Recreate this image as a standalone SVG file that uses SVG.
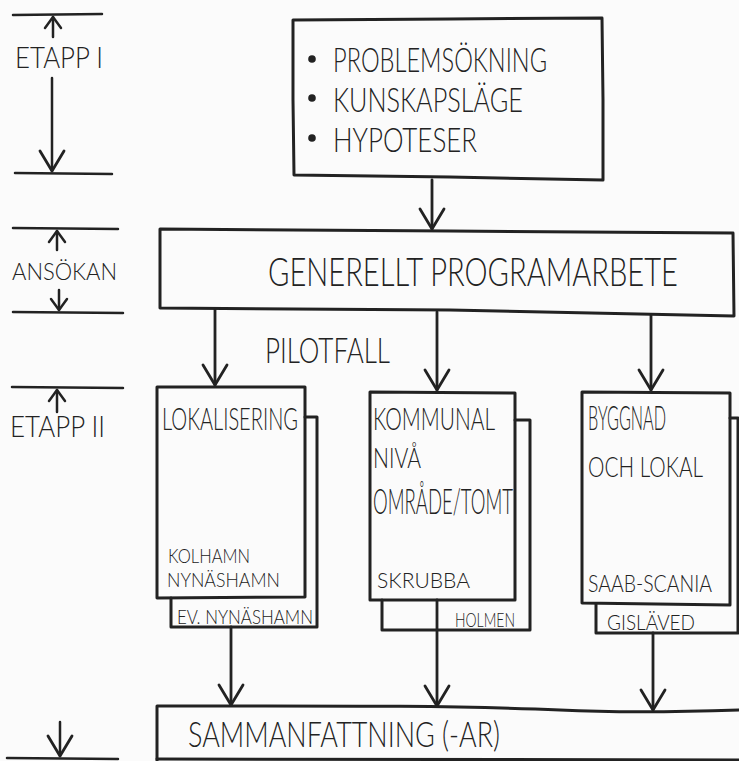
<svg xmlns="http://www.w3.org/2000/svg" width="739" height="761" viewBox="0 0 739 761">
  <style>
    .ln { fill: none; stroke: #222; stroke-width: 3; stroke-linecap: round; stroke-linejoin: round; }
    .tl { fill: none; stroke: #222; stroke-width: 2.5; stroke-linecap: round; }
    .ar { fill: none; stroke: #222; stroke-width: 2.8; stroke-linecap: round; }
    .t { font-family: Lato, "Liberation Sans", Arial, sans-serif; font-weight: 300; fill: #222; }
  </style>
  <defs>
    <marker id="vbig" markerUnits="userSpaceOnUse" markerWidth="30" markerHeight="30" refX="0" refY="0" orient="auto" overflow="visible">
      <path d="M-20,-12 L0,0 L-20,12" fill="none" stroke="#222" stroke-width="2.8" stroke-linecap="round" stroke-linejoin="round"/>
    </marker>
    <marker id="vsmall" markerUnits="userSpaceOnUse" markerWidth="20" markerHeight="20" refX="0" refY="0" orient="auto" overflow="visible">
      <path d="M-11,-8 L0,0 L-11,8" fill="none" stroke="#222" stroke-width="2.5" stroke-linecap="round" stroke-linejoin="round"/>
    </marker>
  </defs>

  <rect width="739" height="761" fill="#fbfbfb"/>

  <!-- phase scale on the left -->
  <g id="phases">
    <path class="tl" d="M13,15 L102,14"/>
    <path class="tl" d="M53,37 L53,17" marker-end="url(#vsmall)"/>
    <text class="t" x="15" y="68" font-size="29" textLength="88" lengthAdjust="spacingAndGlyphs">ETAPP I</text>
    <path class="tl" d="M52,78 L52,171" marker-end="url(#vbig)"/>
    <path class="tl" d="M15,173 L112,174"/>

    <path class="tl" d="M13,228 L118,229"/>
    <path class="tl" d="M57,250 L57,231" marker-end="url(#vsmall)"/>
    <text class="t" x="12" y="280" font-size="24" textLength="105" lengthAdjust="spacingAndGlyphs">ANSÖKAN</text>
    <path class="tl" d="M59,290 L59,310" marker-end="url(#vsmall)"/>
    <path class="tl" d="M13,312 L123,313"/>

    <path class="tl" d="M12,387 L123,388"/>
    <path class="tl" d="M57,412 L57,390" marker-end="url(#vsmall)"/>
    <text class="t" x="10" y="437" font-size="30" textLength="95" lengthAdjust="spacingAndGlyphs">ETAPP II</text>

    <path class="tl" d="M60,722 L60,756" marker-end="url(#vbig)"/>
    <path class="tl" d="M7,758 L118,759"/>
  </g>

  <!-- connectors -->
  <g id="connectors">
    <path class="ar" d="M432,180 L432,229" marker-end="url(#vbig)"/>
    <path class="ar" d="M215,309 L215,385" marker-end="url(#vbig)"/>
    <path class="ar" d="M437,312 L437,390" marker-end="url(#vbig)"/>
    <path class="ar" d="M651,315 L651,390" marker-end="url(#vbig)"/>
    <path class="ar" d="M231,627 L231,705" marker-end="url(#vbig)"/>
    <path class="ar" d="M437,600 L437,706" marker-end="url(#vbig)"/>
    <path class="ar" d="M653,633 L653,710" marker-end="url(#vbig)"/>
  </g>

  <!-- stage I: problem finding -->
  <g id="stage1">
    <path class="ln" d="M293,20 L450,19 L602,18 L603,100 L603,180 L450,177 L294,175 L293,100 Z"/>
    <circle cx="312" cy="59" r="3.8" fill="#222"/>
    <circle cx="312" cy="98" r="3.8" fill="#222"/>
    <circle cx="312" cy="138" r="3.8" fill="#222"/>
    <text class="t" x="333" y="72" font-size="34" textLength="214" lengthAdjust="spacingAndGlyphs">PROBLEMSÖKNING</text>
    <text class="t" x="333" y="112" font-size="34" textLength="190" lengthAdjust="spacingAndGlyphs">KUNSKAPSLÄGE</text>
    <text class="t" x="333" y="152" font-size="34" textLength="144" lengthAdjust="spacingAndGlyphs">HYPOTESER</text>
  </g>

  <!-- application: general programme work -->
  <g id="program">
    <path class="ln" d="M160,229 L450,231 L733,233 L734,316 L450,310 L160,308 Z"/>
    <text class="t" x="268" y="286" font-size="39" textLength="410" lengthAdjust="spacingAndGlyphs">GENERELLT PROGRAMARBETE</text>
  </g>

  <text id="pilot-label" class="t" x="265" y="363" font-size="36" textLength="125" lengthAdjust="spacingAndGlyphs">PILOTFALL</text>

  <!-- stage II: pilot cases -->
  <g id="case-localisation">
    <path class="ln" d="M305,417 L317,417 L317,627 L171,627 L171,598"/>
    <path class="ln" d="M157,387 L305,387 L305,597 L157,598 Z" fill="#fbfbfb"/>
    <text class="t" x="162" y="430" font-size="32" textLength="136" lengthAdjust="spacingAndGlyphs">LOKALISERING</text>
    <text class="t" x="168" y="563" font-size="20" textLength="82" lengthAdjust="spacingAndGlyphs">KOLHAMN</text>
    <text class="t" x="167" y="587" font-size="20" textLength="113" lengthAdjust="spacingAndGlyphs">NYNÄSHAMN</text>
    <text class="t" x="177" y="624" font-size="19" textLength="136" lengthAdjust="spacingAndGlyphs">EV. NYNÄSHAMN</text>
  </g>

  <g id="case-municipal">
    <path class="ln" d="M515,420 L530,420 L530,630 L382,630 L382,600"/>
    <path class="ln" d="M370,392 L515,393 L515,600 L370,600 Z"/>
    <text class="t" x="373" y="430" font-size="32" textLength="122" lengthAdjust="spacingAndGlyphs">KOMMUNAL</text>
    <text class="t" x="373" y="468" font-size="27" textLength="48" lengthAdjust="spacingAndGlyphs">NIVÅ</text>
    <text class="t" x="373" y="514" font-size="36" textLength="140" lengthAdjust="spacingAndGlyphs">OMRÅDE/TOMT</text>
    <text class="t" x="377" y="588" font-size="21" textLength="93" lengthAdjust="spacingAndGlyphs">SKRUBBA</text>
    <text class="t" x="455" y="627" font-size="19" textLength="60" lengthAdjust="spacingAndGlyphs">HOLMEN</text>
  </g>

  <g id="case-building">
    <path class="ln" d="M730,418 L738,418 L738,633 L596,633 L596,604"/>
    <path class="ln" d="M582,392 L730,393 L730,605 L582,603 Z"/>
    <text class="t" x="588" y="430" font-size="33" textLength="78" lengthAdjust="spacingAndGlyphs">BYGGNAD</text>
    <text class="t" x="588" y="477" font-size="28" textLength="115" lengthAdjust="spacingAndGlyphs">OCH LOKAL</text>
    <text class="t" x="588" y="592" font-size="23" textLength="124" lengthAdjust="spacingAndGlyphs">SAAB-SCANIA</text>
    <text class="t" x="607" y="630" font-size="21" textLength="88" lengthAdjust="spacingAndGlyphs">GISLÄVED</text>
  </g>

  <!-- summary -->
  <g id="summary">
    <path class="ln" d="M157,761 L157,706 C300,706 450,705 560,710 C620,713 680,712 739,710"/>
    <path class="ln" d="M157,759 L739,760"/>
    <text class="t" x="188" y="747" font-size="35" textLength="312" lengthAdjust="spacingAndGlyphs">SAMMANFATTNING (-AR)</text>
  </g>
</svg>
